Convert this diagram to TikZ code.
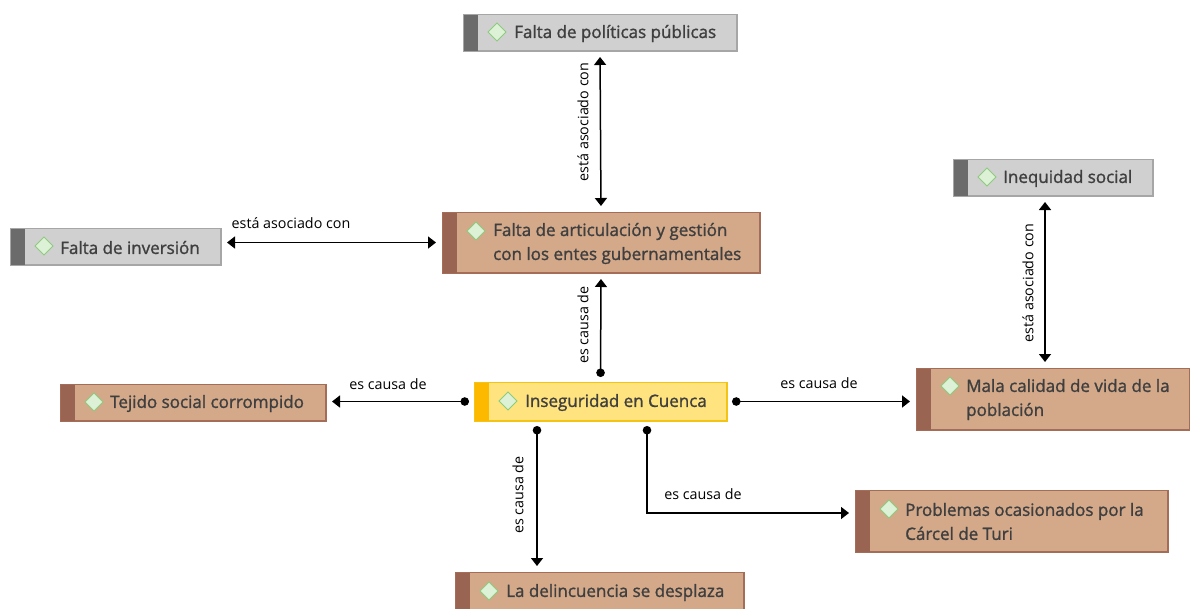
\documentclass[tikz,border=0pt]{standalone}
\usepackage{fontspec}
\setmainfont{Open Sans}
\newfontfamily\nodefont{Open Sans}[FakeBold=1.3]
\usetikzlibrary{arrows.meta}
\definecolor{gfill}{HTML}{D0D0D0}
\definecolor{gbarc}{HTML}{6B6B6B}
\definecolor{gline}{HTML}{A6A6A6}
\definecolor{tfill}{HTML}{D3A98A}
\definecolor{tbarc}{HTML}{9A6452}
\definecolor{tline}{HTML}{A56C58}
\definecolor{yfill}{HTML}{FEE37E}
\definecolor{yelbarc}{HTML}{FCB900}
\definecolor{yline}{HTML}{F3C316}
\definecolor{dfill}{HTML}{DDF1D6}
\definecolor{dline}{HTML}{8DCB7E}
\definecolor{ntext}{HTML}{3F3F3F}
\tikzset{
  conn/.style={line width=1.5pt, black},
  both/.style={conn, {Triangle[length=8pt,width=12pt]}-{Triangle[length=8pt,width=12pt]}, shorten <=6pt, shorten >=6pt},
  cause/.style={conn, {Circle[length=8.5pt]}-{Triangle[length=8pt,width=12pt]}, shorten <=5pt, shorten >=6pt},
  lbl/.style={font=\fontsize{14.3}{16}\selectfont, text=black, inner sep=2pt},
  ntxt/.style={font=\nodefont\fontsize{17}{24}\selectfont, text=ntext, align=left, inner sep=0pt, anchor=west},
}
% \cbox{name}{x1}{y1}{x2}{y2}{fill}{bar}{line}{diamond y offset}
\newcommand{\cbox}[9]{%
  \node[draw=#8, line width=1pt, fill=#6, minimum width=#4pt-#2pt, minimum height=#5pt-#3pt, inner sep=0pt, anchor=north west] (#1) at (#2,#3) {};
  \fill[fill=#7] ([xshift=0.5pt,yshift=-0.5pt]#1.north west) rectangle ([xshift=15pt,yshift=0.5pt]#1.south west);
  \draw[#8, line width=1pt] (#1.north west) rectangle (#1.south east);
  \draw[dline, fill=dfill, line width=1pt] ([xshift=25pt,yshift=-#9pt]#1.north west) -- ++(9,9) -- ++(9,-9) -- ++(-9,-9) -- cycle;
}
\begin{document}
\begin{tikzpicture}[x=1pt,y=-1pt]
\useasboundingbox (0,0) rectangle (1190,608);
\begin{scope}
\clip (0,0) rectangle (1190,608);
\cbox{pol}{463}{14}{736}{50}{gfill}{gbarc}{gline}{18}
\node[ntxt] (polt) at (514,33.5) {Falta de políticas públicas};
\cbox{art}{442}{212}{759}{272}{tfill}{tbarc}{tline}{19}
\node[ntxt] (artt) at (493,243.5) {Falta de articulación y gestión\\con los entes gubernamentales};
\cbox{ineq}{953}{159}{1152}{195}{gfill}{gbarc}{gline}{18}
\node[ntxt] (ineqt) at (1003,178.5) {Inequidad social};
\cbox{inv}{10}{228}{220}{264}{gfill}{gbarc}{gline}{18}
\node[ntxt] (invt) at (60,247.5) {Falta de inversión};
\cbox{tej}{60}{384}{325}{420}{tfill}{tbarc}{tline}{18}
\node[ntxt] (tejt) at (110,403.5) {Tejido social corrompido};
\cbox{ins}{474}{382}{726}{420}{yfill}{yelbarc}{yline}{19}
\node[ntxt] (inst) at (525,402.5) {Inseguridad en Cuenca};
\cbox{mal}{916}{368}{1189}{429}{tfill}{tbarc}{tline}{18}
\node[ntxt] (malt) at (966,399.5) {Mala calidad de vida de la\\población};
\cbox{pro}{855}{490}{1167}{551}{tfill}{tbarc}{tline}{19}
\node[ntxt] (prot) at (905,521.5) {Problemas ocasionados por la\\Cárcel de Turi};
\cbox{del}{455}{572}{743}{620}{tfill}{tbarc}{tline}{19}
\node[ntxt] (delt) at (506,592.5) {La delincuencia se desplaza};
\end{scope}
% connectors
\draw[both] (pol.south) -- (art.north);
\node[lbl, rotate=90] (l1) at (583,122) {está asociado con};
\draw[both] (art.west) -- (art.west -| inv.east);
\node[lbl] (l2) at (291,223) {está asociado con};
\draw[cause] (ins.north) -- (art.south);
\node[lbl, rotate=90] (l3) at (583,325) {es causa de};
\draw[cause] (ins.west) -- (ins.west -| tej.east);
\node[lbl] (l4) at (388,384) {es causa de};
\draw[cause] (ins.east) -- (ins.east -| mal.west);
\node[lbl] (l5) at (819,383) {es causa de};
\coordinate (iq) at ([xshift=92pt]ineq.south west);
\draw[both] (iq) -- (iq |- mal.north);
\node[lbl, rotate=90] (l6) at (1028,283) {está asociado con};
\coordinate (b1) at ([xshift=63pt]ins.south west);
\draw[cause] (b1) -- (b1 |- del.north);
\node[lbl, rotate=90] (l7) at (518,495) {es causa de};
\coordinate (b2) at ([xshift=173pt]ins.south west);
\coordinate (b2c) at (b2 |- 0,513);
\draw[cause] (b2) -- (b2c) -- (b2c -| pro.west);
\node[lbl] (l8) at (703,494) {es causa de};
\end{tikzpicture}
\end{document}
